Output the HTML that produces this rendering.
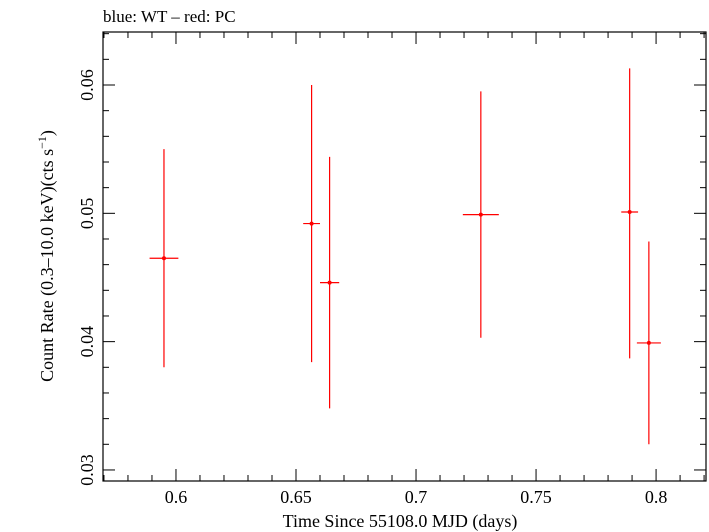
<!DOCTYPE html>
<html><head><meta charset="utf-8"><style>
body{margin:0;background:#fff;}
svg{display:block;font-family:"Liberation Serif",serif;}
</style></head><body>
<svg id="chart" width="709" height="532">
<text x="103" y="22" font-size="17">blue: WT – red: PC</text>
<rect x="103" y="32" width="603" height="449" fill="none" stroke="#000" stroke-width="1.2"/>
<g id="ticks"></g>
<g id="marks"></g>
<text x="400" y="527" font-size="18" text-anchor="middle">Time Since 55108.0 MJD (days)</text>
<text transform="translate(53,256) rotate(-90)" font-size="18" text-anchor="middle">Count Rate (0.3–10.0 keV)(cts s<tspan dy="-7" font-size="12">−1</tspan><tspan dy="7">)</tspan></text>
</svg>
<script>
const xs=[0.595,0.6565,0.664,0.727,0.789,0.797];
const xerr=[0.006,0.0035,0.004,0.0075,0.0035,0.005];
const ys=[0.0465,0.0492,0.0446,0.0499,0.0501,0.0399];
const ylo=[0.038,0.0384,0.0348,0.0403,0.0387,0.0320];
const yhi=[0.055,0.0600,0.0544,0.0595,0.0613,0.0478];
const xTicks=["0.6","0.65","0.7","0.75","0.8"];
const yTicks=["0.03","0.04","0.05","0.06"];
const X0=103,X1=706,Y0=481,Y1=32,xmin=0.5696,xmax=0.8208,ymin=0.02914,ymax=0.06413;
const sx=v=>X0+(v-xmin)/(xmax-xmin)*(X1-X0);
const sy=v=>Y0-(v-ymin)/(ymax-ymin)*(Y0-Y1);
const NS="http://www.w3.org/2000/svg";
function mk(tag,attrs,parent){const e=document.createElementNS(NS,tag);for(const k in attrs)e.setAttribute(k,attrs[k]);parent.appendChild(e);return e;}
const tg=document.getElementById('ticks'),mg=document.getElementById('marks');
for(let i=0;i<=30;i++){const v=0.57+i*0.01;if(v<xmin||v>xmax)continue;const x=sx(v);const major=Math.abs((v*100)%5)<0.01||Math.abs((v*100)%5-5)<0.01;const L=major?12:6;
const t1=mk('line',{x1:x,x2:x,y1:Y0,y2:Y0-L,stroke:'#000'},tg);


mk('line',{x1:x,x2:x,y1:Y1,y2:Y1+L,stroke:'#000'},tg);}
xTicks.forEach(s=>{const t=mk('text',{x:sx(+s),y:Y0+22,'font-size':18,'text-anchor':'middle'},tg);t.textContent=s;

});
for(let i=0;i<=20;i++){const v=0.028+i*0.002;if(v<ymin||v>ymax)continue;const y=sy(v);const major=i%5===1;const L=major?12:6;
const t1=mk('line',{x1:X0,x2:X0+L,y1:y,y2:y,stroke:'#000'},tg);


mk('line',{x1:X1,x2:X1-L,y1:y,y2:y,stroke:'#000'},tg);}
yTicks.forEach(s=>{const y=sy(+s);const t=mk('text',{transform:`translate(${X0-10},${y}) rotate(-90)`,'font-size':18,'text-anchor':'middle'},tg);t.textContent=s;

});
xs.forEach((x,i)=>{const g=mk('g',{},mg);


mk('line',{x1:sx(x-xerr[i]),x2:sx(x+xerr[i]),y1:sy(ys[i]),y2:sy(ys[i]),stroke:'#f00','stroke-width':1.2},g);
mk('line',{x1:sx(x),x2:sx(x),y1:sy(ylo[i]),y2:sy(yhi[i]),stroke:'#f00','stroke-width':1.2},g);
mk('circle',{cx:sx(x),cy:sy(ys[i]),r:2,fill:'#f00'},g);});
</script>
</body></html>
